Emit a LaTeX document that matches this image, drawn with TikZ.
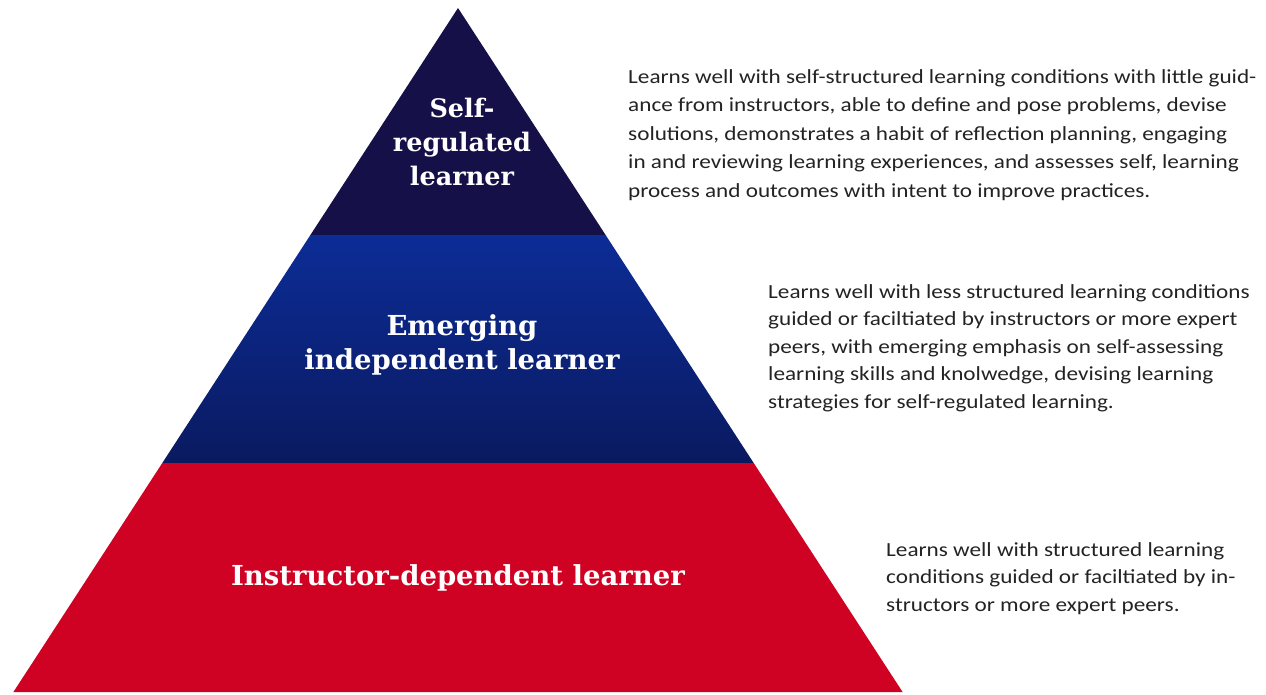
\documentclass[tikz,border=0pt]{standalone}
\usepackage{fontspec}
\setmainfont{Carlito}[FakeStretch=1.16]
\newfontfamily\levelfont{DejaVu Serif}
\usetikzlibrary{positioning}

\definecolor{topnavy}{RGB}{22,16,72}
\definecolor{midblue}{RGB}{12,44,150}
\definecolor{midnavy}{RGB}{10,26,96}
\definecolor{basered}{RGB}{208,2,36}
\definecolor{desctext}{RGB}{35,35,35}

\tikzset{
  levellabel/.style={text=white, align=center, font=\levelfont\bfseries\fontsize{27.5}{34}\selectfont, inner sep=0pt},
  levelnote/.style={text=desctext, align=left, anchor=north west, inner sep=0pt, font=\fontsize{20}{28.5}\selectfont}
}

\begin{document}
\begin{tikzpicture}[x=1pt, y=-1pt]
    \useasboundingbox (0,0) rectangle (1266,694);

    % Corners of the pyramid and its bands
    \coordinate (apex) at (458,8);
    \coordinate (tl) at (310.4,235);
    \coordinate (tr) at (605.6,235);
    \coordinate (ml) at (162.3,463);
    \coordinate (mr) at (753.7,463);
    \coordinate (bl) at (13.4,692);
    \coordinate (br) at (902.6,692);

    % Fill the three bands
    \fill[topnavy] (apex) -- (tr) -- (tl) -- cycle;
    \shade[top color=midblue, bottom color=midnavy] (tl) -- (tr) -- (mr) -- (ml) -- cycle;
    \fill[basered] (ml) -- (mr) -- (br) -- (bl) -- cycle;

    % Level names
    \node[levellabel, font=\levelfont\bfseries\fontsize{25.5}{34}\selectfont] (self) at (462,142) {Self-\\regulated\\learner};
    \node[levellabel] (emerging) at (462,345) {Emerging\\independent learner};
    \node[levellabel] (instructor) at (458,578) {Instructor-dependent learner};

    % Descriptions beside each level
    \node[levelnote] (selfnote) at (628,69) {Learns well with self-structured learning conditions with little guid-\\ance from instructors, able to define and pose problems, devise\\solutions, demonstrates a habit of reflection planning, engaging\\in and reviewing learning experiences, and assesses self, learning\\process and outcomes with intent to improve practices.};
    \node[levelnote, font=\fontsize{20}{27.5}\selectfont] (emergingnote) at (768,284) {Learns well with less structured learning conditions\\guided or faciltiated by instructors or more expert\\peers, with emerging emphasis on self-assessing\\learning skills and knolwedge, devising learning\\strategies for self-regulated learning.};
    \node[levelnote, font=\fontsize{20}{27.8}\selectfont] (instructornote) at (886,542) {Learns well with structured learning\\conditions guided or faciltiated by in-\\structors or more expert peers.};
\end{tikzpicture}
\end{document}
